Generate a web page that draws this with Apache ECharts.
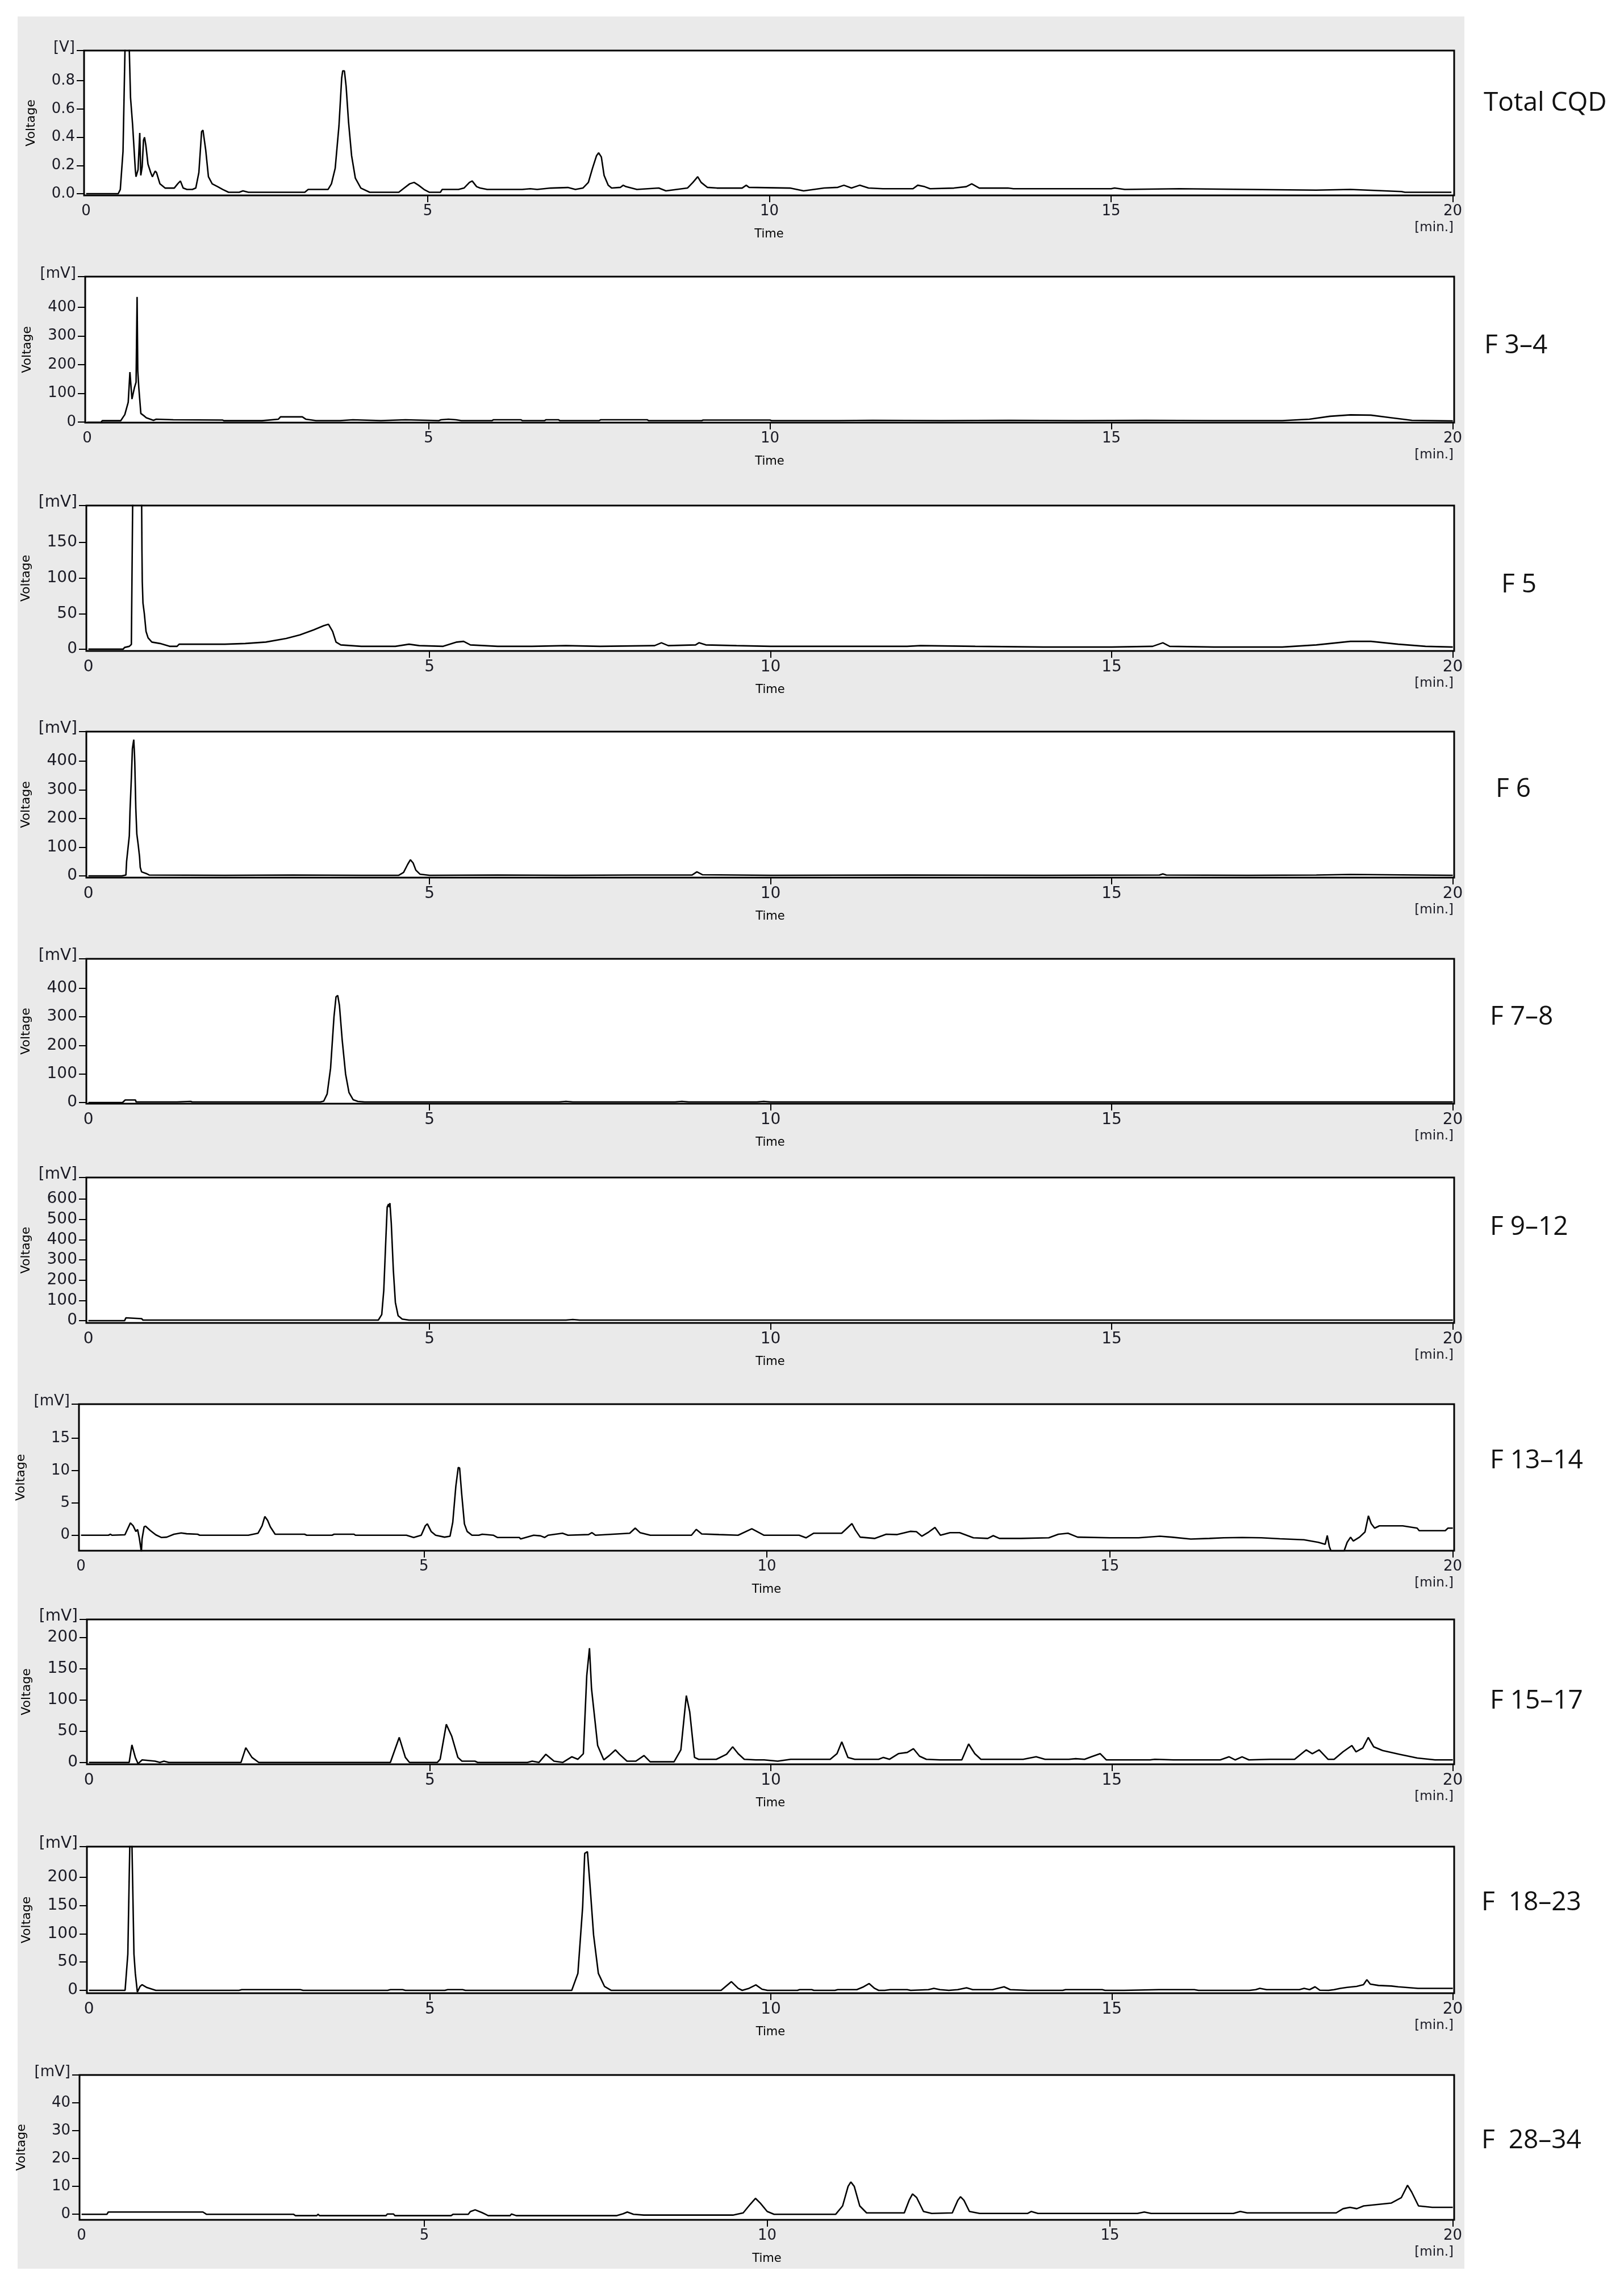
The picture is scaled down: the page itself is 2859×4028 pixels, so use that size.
<!DOCTYPE html>
<html>
<head>
<meta charset="utf-8">
<script src="https://cdn.jsdelivr.net/npm/echarts@6/dist/echarts.min.js"></script>
<style>
html, body { margin: 0; padding: 0; background: #fff; }
#wrap { position: relative; width: 2859px; height: 4028px; }
#bg { position: absolute; left: 31px; top: 29px; width: 2547px; height: 3965px; background: #eaeaea; }
#main { position: absolute; left: 0; top: 0; width: 2859px; height: 4028px; }
</style>
</head>
<body>
<div id="wrap"><div id="bg"></div><div id="main"></div></div>
<script>
// ---- data: [time (min), signal] ----
const totalCQD = [[0,0],[0.47,0],[0.5,0.03],[0.54,0.3],[0.57,1.05],[0.6,1.05],[0.63,1.05],[0.65,0.68],[0.68,0.49],[0.7,0.33],[0.72,0.17],[0.73,0.12],[0.76,0.17],[0.785,0.43],[0.8,0.13],[0.82,0.19],[0.84,0.38],[0.855,0.4],[0.875,0.34],[0.905,0.21],[0.945,0.15],[0.97,0.12],[1.01,0.16],[1.03,0.15],[1.08,0.07],[1.155,0.04],[1.235,0.04],[1.29,0.04],[1.34,0.07],[1.38,0.09],[1.42,0.04],[1.475,0.03],[1.555,0.03],[1.605,0.04],[1.65,0.15],[1.69,0.44],[1.71,0.45],[1.75,0.31],[1.79,0.12],[1.845,0.07],[1.925,0.05],[2.0,0.03],[2.085,0.01],[2.24,0.01],[2.295,0.02],[2.375,0.01],[3.2,0.01],[3.25,0.03],[3.54,0.03],[3.59,0.07],[3.645,0.18],[3.7,0.48],[3.74,0.82],[3.755,0.87],[3.78,0.87],[3.805,0.76],[3.84,0.51],[3.885,0.27],[3.94,0.11],[4.02,0.04],[4.15,0.01],[4.575,0.01],[4.655,0.04],[4.735,0.07],[4.8,0.08],[4.865,0.06],[4.945,0.03],[5.025,0.01],[5.185,0.01],[5.21,0.03],[5.45,0.03],[5.53,0.04],[5.61,0.08],[5.65,0.09],[5.715,0.05],[5.765,0.04],[5.87,0.03],[6.38,0.03],[6.5,0.035],[6.6,0.03],[6.8,0.04],[7.05,0.044],[7.16,0.03],[7.27,0.04],[7.35,0.08],[7.41,0.18],[7.47,0.27],[7.5,0.29],[7.54,0.26],[7.58,0.13],[7.64,0.06],[7.69,0.04],[7.82,0.045],[7.86,0.06],[7.9,0.05],[8.06,0.03],[8.38,0.04],[8.485,0.02],[8.8,0.04],[8.88,0.08],[8.95,0.12],[9.0,0.08],[9.09,0.045],[9.23,0.04],[9.6,0.04],[9.66,0.06],[9.7,0.045],[10.3,0.04],[10.5,0.02],[10.8,0.04],[11.0,0.045],[11.09,0.06],[11.2,0.04],[11.32,0.06],[11.45,0.04],[11.66,0.035],[12.1,0.035],[12.17,0.06],[12.27,0.05],[12.35,0.035],[12.7,0.04],[12.88,0.05],[12.96,0.07],[13.07,0.04],[13.49,0.04],[13.57,0.035],[15.0,0.035],[15.05,0.04],[15.2,0.03],[16.0,0.035],[17.0,0.03],[18.0,0.025],[18.5,0.03],[19.0,0.02],[19.25,0.015],[19.3,0.01],[19.98,0.01]];

const f3to4 = [[0,-1],[0.2,-1],[0.22,4.6],[0.49,4.6],[0.55,26],[0.6,69],[0.625,174],[0.635,171],[0.655,80],[0.69,119],[0.715,139],[0.73,436],[0.74,178],[0.755,120],[0.785,30],[0.84,20],[0.865,15],[0.97,6],[1.01,10],[1.26,8],[1.98,7],[2.0,4.6],[2.56,4.6],[2.57,8],[2.8,10],[2.83,18],[3.15,18],[3.2,10],[3.35,5],[3.7,5],[3.71,8],[3.89,8],[3.9,5],[4.3,5],[4.31,8],[4.66,8],[4.67,5],[5.15,5],[5.18,8],[5.29,10],[5.4,8],[5.48,5],[5.93,5],[5.95,8],[6.35,8],[6.37,5],[6.7,5],[6.72,8],[6.9,8],[6.92,5],[7.5,5],[7.52,8],[8.2,8],[8.22,5],[9.0,5],[9.02,7],[10.0,7],[10.02,5],[11.0,5],[11.5,6],[12.5,5],[13.5,6],[14.5,5],[15.5,6],[16.5,5],[17.5,5],[17.9,10],[18.2,20],[18.5,25],[18.8,24],[19.1,15],[19.4,6],[20,4]];

const f5 = [[0,0],[0.51,0],[0.53,2.4],[0.6,4],[0.63,6.7],[0.645,7],[0.65,215],[0.78,215],[0.785,140],[0.79,95],[0.8,65],[0.82,50],[0.845,25],[0.875,16],[0.93,10],[1.05,8],[1.19,4],[1.3,4],[1.33,7],[2.0,7],[2.3,8],[2.6,10],[2.9,15],[3.1,20],[3.3,27],[3.45,33],[3.52,35],[3.58,25],[3.63,10],[3.7,6],[4.0,4],[4.5,4],[4.7,7],[4.85,5],[5.2,4],[5.4,10],[5.5,11],[5.6,6],[6.0,4],[6.5,4],[7.0,5],[7.5,4],[8.3,5],[8.4,9],[8.5,5],[8.9,6],[8.95,9],[9.05,6],[9.5,5],[10,4],[11,4],[12,4],[12.2,5],[13,4],[14,3],[15,3],[15.6,4],[15.75,9],[15.85,4],[16.5,3],[17.5,3],[18.0,6],[18.5,11],[18.8,11],[19.2,7],[19.6,4],[20,3]];

const f6 = [[0,0],[0.49,0],[0.55,3],[0.56,50],[0.6,140],[0.61,225],[0.63,342],[0.645,443],[0.665,475],[0.675,428],[0.68,396],[0.695,236],[0.71,146],[0.73,109],[0.75,67],[0.76,30],[0.78,14],[0.85,8],[0.89,3],[2,2],[3,3],[4,2],[4.55,2],[4.62,12],[4.68,40],[4.72,56],[4.76,45],[4.8,20],[4.86,6],[5,2],[6,3],[7,2],[8,3],[8.85,3],[8.92,14],[9.0,4],[10,2],[12,3],[14,2],[15.7,3],[15.75,7],[15.8,3],[17,2],[18,3],[18.5,5],[19,4],[20,2]];

const f7to8 = [[0,0],[0.5,0],[0.54,9],[0.69,9],[0.7,2],[1.3,2],[1.31,4],[1.5,4],[1.52,2],[3.4,2],[3.45,5],[3.5,30],[3.55,120],[3.6,300],[3.63,370],[3.655,375],[3.68,340],[3.72,220],[3.77,100],[3.82,35],[3.88,10],[3.95,4],[4.05,2],[6.9,2],[7.0,4],[7.1,2],[8.6,2],[8.7,4],[8.8,2],[9.8,2],[9.9,4],[10.0,2],[20,2]];

const f9to12 = [[0,0],[0.53,0],[0.55,14],[0.78,10],[0.8,3],[1.3,3],[4.25,3],[4.3,30],[4.33,150],[4.36,400],[4.38,560],[4.4,575],[4.41,560],[4.42,580],[4.44,480],[4.47,250],[4.5,90],[4.54,25],[4.6,8],[4.7,3],[7.0,3],[7.1,6],[7.2,3],[20,3]];

const f13to14 = [[0,0],[0.4,0],[0.43,0.15],[0.45,0],[0.64,0.06],[0.72,1.9],[0.76,1.46],[0.8,0.58],[0.825,0.88],[0.85,-0.44],[0.88,-2.6],[0.89,-0.58],[0.92,1.3],[0.94,1.4],[1.01,0.73],[1.09,0.06],[1.17,-0.35],[1.25,-0.3],[1.355,0.15],[1.46,0.35],[1.54,0.23],[1.7,0.15],[1.73,0],[2.44,0],[2.58,0.3],[2.64,1.46],[2.68,2.9],[2.72,2.3],[2.76,1.3],[2.83,0.15],[3.26,0.15],[3.29,0],[3.66,0],[3.69,0.15],[3.98,0.15],[4.0,0],[4.745,0],[4.85,-0.35],[4.96,0],[5.02,1.46],[5.05,1.75],[5.105,0.58],[5.17,0],[5.3,-0.3],[5.38,-0.15],[5.42,2.0],[5.465,7.6],[5.5,10.5],[5.52,10.4],[5.55,6.4],[5.59,1.75],[5.63,0.58],[5.7,0],[5.8,0],[5.85,0.15],[6.01,0],[6.07,-0.35],[6.39,-0.35],[6.41,-0.58],[6.6,0],[6.7,-0.1],[6.76,-0.35],[6.81,0],[7.02,0.3],[7.1,0],[7.4,0.1],[7.45,0.4],[7.5,0],[8.0,0.3],[8.08,1.1],[8.15,0.4],[8.3,0],[8.9,0],[8.97,0.9],[9.05,0.2],[9.3,0.1],[9.58,0],[9.78,1.0],[9.955,0],[10.47,0],[10.57,-0.4],[10.68,0.3],[11.09,0.3],[11.17,1.1],[11.24,1.8],[11.29,0.8],[11.36,-0.3],[11.57,-0.5],[11.74,0.15],[11.9,0.1],[12.09,0.6],[12.18,0.55],[12.26,-0.15],[12.36,0.5],[12.45,1.2],[12.53,0],[12.67,0.4],[12.81,0.4],[13.01,-0.4],[13.22,-0.5],[13.3,-0.07],[13.39,-0.5],[13.7,-0.5],[14.11,-0.4],[14.25,0.15],[14.39,0.3],[14.53,-0.3],[15.0,-0.4],[15.42,-0.4],[15.73,-0.15],[15.9,-0.3],[16.18,-0.6],[16.45,-0.5],[16.66,-0.4],[16.93,-0.35],[17.21,-0.4],[17.48,-0.55],[17.83,-0.7],[18.04,-1.1],[18.14,-1.4],[18.17,-0.05],[18.2,-1.75],[18.23,-2.6],[18.41,-2.6],[18.46,-1.1],[18.51,-0.3],[18.55,-0.9],[18.64,-0.3],[18.72,0.5],[18.77,3.0],[18.81,1.8],[18.86,1.1],[18.93,1.45],[19.27,1.45],[19.48,1.1],[19.51,0.7],[19.89,0.7],[19.93,1.1],[20,1.1]];

const f15to17 = [[0,0],[0.59,0],[0.63,28],[0.68,8],[0.72,-2],[0.78,4],[0.97,2],[1.04,0],[1.1,2],[1.17,0],[2.23,0],[2.3,23.5],[2.39,8],[2.49,0],[4.42,0],[4.55,40],[4.64,8],[4.7,0],[5.11,0],[5.15,5],[5.24,61],[5.32,42],[5.41,8],[5.47,2],[5.66,2],[5.7,0],[6.43,0],[6.5,2],[6.6,0],[6.7,13],[6.82,2],[6.95,0],[7.08,9],[7.17,5],[7.25,14],[7.3,139],[7.34,183],[7.37,118],[7.46,27],[7.55,4],[7.63,11],[7.72,20],[7.78,13],[7.89,2],[8.02,2],[8.14,11],[8.23,1],[8.58,1],[8.68,20],[8.76,107],[8.81,81],[8.88,8],[8.94,5],[9.2,5],[9.35,13],[9.44,25],[9.52,14],[9.61,5],[9.78,4],[9.9,4],[10.1,2],[10.29,5],[10.55,5],[10.87,5],[10.97,14],[11.04,33],[11.13,8],[11.23,5],[11.58,5],[11.65,8],[11.74,5],[11.87,14],[12.0,16],[12.09,22],[12.18,10],[12.28,5],[12.48,4],[12.8,4],[12.9,29.5],[12.99,14],[13.08,5],[13.7,5],[13.89,9],[14.02,5],[14.37,5],[14.47,6],[14.6,5],[14.7,9],[14.83,14],[14.92,4],[15.56,4],[15.63,5],[15.9,4],[16.59,4],[16.72,9],[16.81,4],[16.91,9],[17.01,4],[17.32,5],[17.68,5],[17.85,20],[17.94,14],[18.04,20],[18.17,5],[18.26,5],[18.39,17],[18.52,27],[18.58,17],[18.68,23],[18.76,40],[18.84,25],[18.97,19],[19.22,13],[19.48,7],[19.74,4],[20,4]];

const f18to23 = [[0,0],[0.53,0],[0.57,64],[0.59,198],[0.6,262],[0.63,262],[0.66,64],[0.68,30],[0.71,-3],[0.75,7],[0.78,10],[0.85,5],[0.98,0],[2.2,0],[2.24,1.3],[3.1,1.3],[3.14,0],[4.38,0],[4.42,1.3],[4.6,1.3],[4.64,0],[5.22,0],[5.26,1.3],[5.48,1.3],[5.52,0],[7.08,0],[7.17,30],[7.24,148],[7.27,242],[7.31,245],[7.35,182],[7.4,98],[7.47,30],[7.56,7],[7.66,0],[9.27,0],[9.42,15.4],[9.52,3.6],[9.58,0],[9.68,3.6],[9.78,9.7],[9.87,2],[9.95,0],[10.39,0],[10.42,1.3],[10.6,1.3],[10.63,0],[10.94,0],[10.98,1.3],[11.26,1.3],[11.36,6.3],[11.44,12],[11.52,3.6],[11.58,0],[11.67,0],[11.75,1.3],[12.0,1.3],[12.05,0],[12.31,1.3],[12.39,3.6],[12.48,1.3],[12.61,0],[12.74,1.3],[12.87,4.6],[12.96,1.3],[13.25,1.3],[13.42,6.3],[13.51,1.3],[13.77,0],[14.28,0],[14.32,1.3],[14.86,1.3],[14.9,0],[15.18,0],[15.69,1.3],[16.21,1.3],[16.27,0],[17.02,0],[17.11,1.3],[17.17,3.6],[17.27,1.3],[17.75,1.3],[17.82,3.6],[17.9,1.3],[17.98,6.3],[18.05,0.3],[18.18,0],[18.26,1.3],[18.35,3.6],[18.45,5.3],[18.59,7],[18.69,10],[18.74,18.8],[18.79,11],[18.91,8.7],[19.1,7.7],[19.2,6.3],[19.49,3.6],[20,3.6]];

const f28to34 = [[0,0],[0.37,0],[0.39,0.8],[0.55,0.8],[0.56,1.1],[0.58,0.8],[1.77,0.8],[1.82,0],[3.09,0],[3.12,-0.5],[3.43,-0.5],[3.45,0],[3.47,-0.5],[4.44,-0.5],[4.46,0.1],[4.55,0.1],[4.57,-0.5],[5.39,-0.5],[5.42,0],[5.64,0],[5.67,0.95],[5.74,1.6],[5.84,0.6],[5.89,0],[5.93,-0.5],[6.25,-0.5],[6.27,0.1],[6.34,-0.5],[7.8,-0.5],[7.9,0.2],[7.96,0.8],[8.05,0],[8.2,-0.3],[9.5,-0.3],[9.65,0.5],[9.75,3.5],[9.83,5.7],[9.9,4],[10.0,1],[10.1,0],[11.0,0],[11.1,3],[11.18,10],[11.22,11.6],[11.27,10],[11.35,3],[11.45,0.5],[12.0,0.5],[12.07,5],[12.12,7.3],[12.18,6],[12.28,1],[12.4,0.3],[12.7,0.5],[12.78,5],[12.82,6.3],[12.87,5],[12.95,1],[13.1,0.3],[13.8,0.3],[13.85,1.0],[13.95,0.3],[15.4,0.3],[15.5,0.8],[15.6,0.3],[16.8,0.3],[16.9,1],[17.0,0.5],[18.3,0.5],[18.4,2],[18.5,2.5],[18.6,2],[18.7,3],[18.9,3.5],[19.1,4],[19.25,6],[19.34,10.4],[19.4,8],[19.5,3],[19.7,2.5],[20,2.5]];

const traces = [totalCQD, f3to4, f5, f6, f7to8, f9to12, f13to14, f15to17, f18to23, f28to34];
const traceNames = ['Total CQD', 'F 3\u20134', 'F 5', 'F 6', 'F 7\u20138', 'F 9\u201312', 'F 13\u201314', 'F 15\u201317', 'F  18\u201323', 'F  28\u201334'];
const yUnits = ['[V]', '[mV]', '[mV]', '[mV]', '[mV]', '[mV]', '[mV]', '[mV]', '[mV]', '[mV]'];
const yTickValues = [
  [0, 0.2, 0.4, 0.6, 0.8],
  [0, 100, 200, 300, 400],
  [0, 50, 100, 150],
  [0, 100, 200, 300, 400],
  [0, 100, 200, 300, 400],
  [0, 100, 200, 300, 400, 500, 600],
  [0, 5, 10, 15],
  [0, 50, 100, 150, 200],
  [0, 50, 100, 150, 200],
  [0, 10, 20, 30, 40]
];
const yMin = [-0.012, -2, -2.5, -6, -4, -11, -2.4, -3, -5, -2];
const yMax = [1.014, 507, 202, 503, 503, 706, 20.3, 229, 254, 50];
const xTickValues = [0, 5, 10, 15, 20];

// ---- layout (pixels) ----
const plotLeft = [148, 150, 152, 152, 152, 152, 139, 153, 153, 140];
const plotRight = 2560;
const plotTop = [89, 487, 890, 1288, 1688, 2073, 2472, 2851, 3251, 3653];
const plotBottom = [344, 744, 1146, 1545, 1943, 2329, 2730, 3106, 3509, 3908];
const nameX = [2612, 2613, 2643, 2633, 2623, 2623, 2623, 2623, 2608, 2608];
const nameY = [182, 609, 1030, 1390, 1791, 2161, 2572, 2995, 3350, 3769];
// panels drawn with the wider tick font in the original
const wideTickFont = [false, false, true, true, true, true, false, true, true, false];

const FONT = 'DejaVu Sans';
const INK = '#1a1a24';

let myChart = echarts.init(document.getElementById('main'), null, { renderer: 'canvas' });

let grids = [], xAxes = [], yAxes = [], series = [], graphics = [];
traces.forEach((trace, i) => {
  let tickSize = wideTickFont[i] ? 28 : 26;
  grids.push({
    left: plotLeft[i],
    top: plotTop[i],
    width: plotRight - plotLeft[i],
    height: plotBottom[i] - plotTop[i],
    show: true,
    backgroundColor: '#fff',
    borderColor: '#000',
    borderWidth: 3
  });
  xAxes.push({
    type: 'value',
    gridIndex: i,
    min: -0.03,
    max: 20.02,
    splitLine: { show: false },
    axisLine: { show: false, onZero: false },
    axisTick: {
      show: true, inside: false, length: 12, customValues: [5, 10, 15, 20],
      lineStyle: { color: '#000', width: 2 }
    },
    axisLabel: {
      customValues: xTickValues, margin: 15,
      fontFamily: FONT, fontSize: tickSize, color: INK
    },
    name: 'Time',
    nameLocation: 'middle',
    nameGap: 58,
    nameTextStyle: { fontFamily: FONT, fontSize: 21, color: '#000' }
  });
  let unitTicks = yTickValues[i].concat([yMax[i]]);
  yAxes.push({
    type: 'value',
    gridIndex: i,
    min: yMin[i],
    max: yMax[i],
    splitLine: { show: false },
    axisLine: { show: false, onZero: false },
    axisTick: {
      show: true, inside: false, length: 13, customValues: unitTicks,
      lineStyle: { color: '#000', width: 2 }
    },
    axisLabel: {
      customValues: unitTicks, margin: 16,
      fontFamily: FONT, fontSize: tickSize, color: INK,
      formatter: function (v) {
        // the top tick carries the unit, sitting a little above the frame
        if (v >= yMax[i] - 1e-9) return '{u|' + yUnits[i] + '}';
        return i === 0 ? v.toFixed(1) : String(Math.round(v));
      },
      rich: {
        u: { fontFamily: FONT, fontSize: tickSize, color: INK, padding: [0, 0, 10, 0] }
      }
    },
    name: 'Voltage',
    nameLocation: 'middle',
    nameRotate: 90,
    nameGap: plotLeft[i] - 66,
    nameTextStyle: { fontFamily: FONT, fontSize: 22, color: '#000' }
  });
  series.push({
    type: 'line',
    xAxisIndex: i,
    yAxisIndex: i,
    data: trace,
    showSymbol: false,
    symbol: 'none',
    clip: true,
    animation: false,
    lineStyle: { color: '#000', width: 2.6 }
  });
  // unit of time axis, under the 20 label
  graphics.push({
    type: 'text',
    right: 2859 - 2559,
    top: plotBottom[i] + 46,
    style: { text: '[min.]', font: '23px "DejaVu Sans"', fill: INK }
  });
  // fraction name at the right
  graphics.push({
    type: 'text',
    x: nameX[i],
    y: nameY[i],
    style: { text: traceNames[i], font: '46px "Open Sans"', fill: '#111', verticalAlign: 'middle', align: 'left' }
  });
});

let option = {
  backgroundColor: 'transparent',
  animation: false,
  grid: grids,
  xAxis: xAxes,
  yAxis: yAxes,
  series: series,
  graphic: graphics
};
myChart.setOption(option);
</script>
</body>
</html>
